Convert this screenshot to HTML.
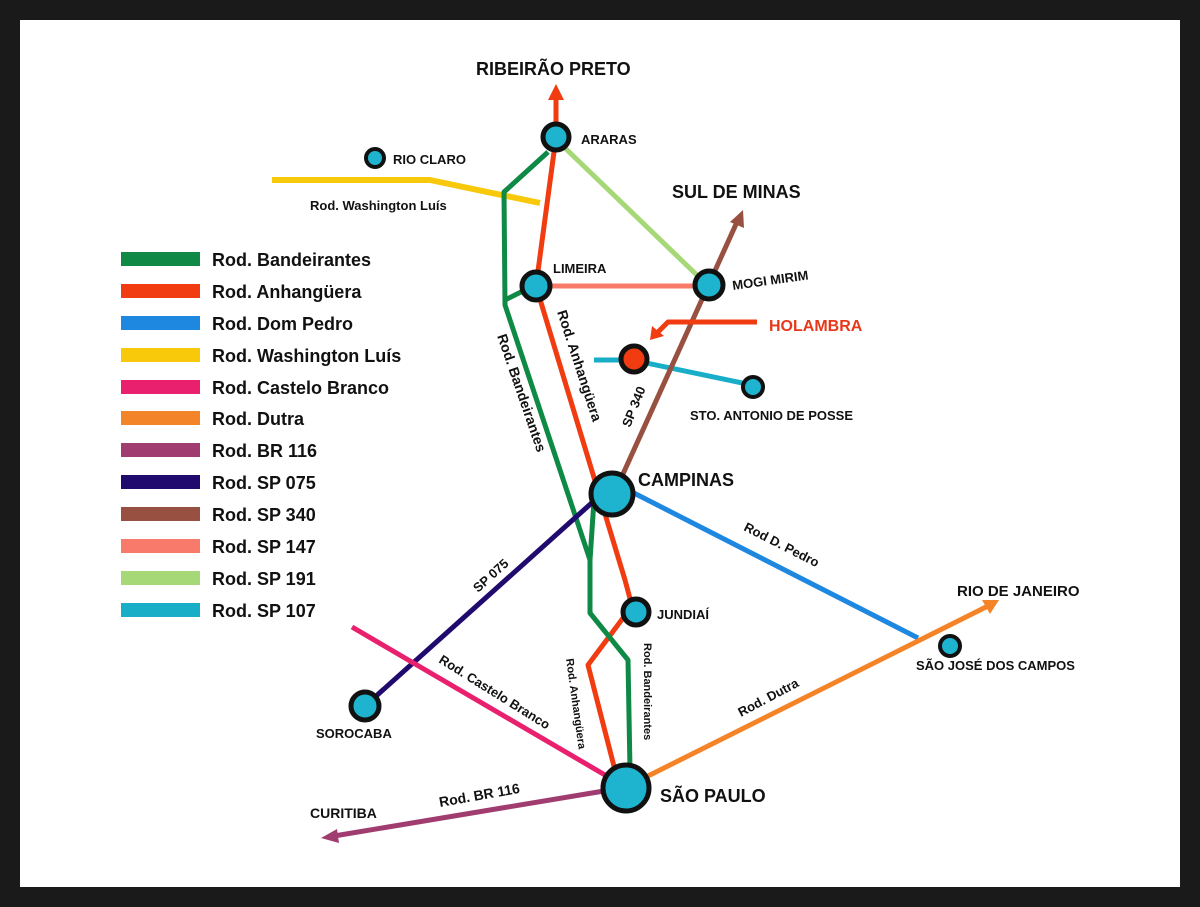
<!DOCTYPE html>
<html><head><meta charset="utf-8"><style>
html,body{margin:0;padding:0;background:#1a1a1a;}
svg{display:block;}
text{font-family:"Liberation Sans",Arial,sans-serif;font-weight:bold;fill:#111;}
</style></head><body>
<svg width="1200" height="907" viewBox="0 0 1200 907" xmlns="http://www.w3.org/2000/svg">
<rect x="0" y="0" width="1200" height="907" fill="#1a1a1a"/>
<rect x="20" y="20" width="1160" height="867" fill="#ffffff"/>

<!-- legend -->
<g>
<rect x="121" y="252" width="79" height="14" fill="#0f8a46"/>
<rect x="121" y="284" width="79" height="14" fill="#f03c10"/>
<rect x="121" y="316" width="79" height="14" fill="#1e88e0"/>
<rect x="121" y="348" width="79" height="14" fill="#f8c80a"/>
<rect x="121" y="380" width="79" height="14" fill="#e8206e"/>
<rect x="121" y="411" width="79" height="14" fill="#f48428"/>
<rect x="121" y="443" width="79" height="14" fill="#a03c70"/>
<rect x="121" y="475" width="79" height="14" fill="#200a6e"/>
<rect x="121" y="507" width="79" height="14" fill="#985040"/>
<rect x="121" y="539" width="79" height="14" fill="#f87a6a"/>
<rect x="121" y="571" width="79" height="14" fill="#a6d878"/>
<rect x="121" y="603" width="79" height="14" fill="#18aec8"/>
<g font-size="18">
<text x="212" y="266">Rod. Bandeirantes</text>
<text x="212" y="298">Rod. Anhangüera</text>
<text x="212" y="330">Rod. Dom Pedro</text>
<text x="212" y="362">Rod. Washington Luís</text>
<text x="212" y="394">Rod. Castelo Branco</text>
<text x="212" y="425">Rod. Dutra</text>
<text x="212" y="457">Rod. BR 116</text>
<text x="212" y="489">Rod. SP 075</text>
<text x="212" y="521">Rod. SP 340</text>
<text x="212" y="553">Rod. SP 147</text>
<text x="212" y="585">Rod. SP 191</text>
<text x="212" y="617">Rod. SP 107</text>
</g>
</g>

<!-- roads -->
<g fill="none" stroke-linejoin="round" stroke-linecap="butt">
<polyline points="272,180 430,180 540,203" stroke="#f8c80a" stroke-width="6"/>
<line x1="565" y1="148" x2="702" y2="280" stroke="#a6d878" stroke-width="5"/>
<line x1="548" y1="286" x2="700" y2="286" stroke="#f87a6a" stroke-width="5"/>
<polyline points="594,360 632,360 752,385" stroke="#18aec8" stroke-width="5"/>
<line x1="618" y1="485" x2="737" y2="222" stroke="#985040" stroke-width="5"/>
<polyline points="757,322 668,322 655,335" stroke="#f03c10" stroke-width="5"/>
<polyline points="556,98 556,137 536,286 625,580 632,606 588,665 617,778" stroke="#f03c10" stroke-width="5"/>
<polyline points="548,152 504,192 505,305 590,560 590,613 628,660 630,770" stroke="#0f8a46" stroke-width="5"/>
<line x1="505" y1="300" x2="525" y2="290" stroke="#0f8a46" stroke-width="5"/>
<line x1="594" y1="500" x2="590" y2="560" stroke="#0f8a46" stroke-width="5"/>
<line x1="595" y1="500" x2="365" y2="706" stroke="#200a6e" stroke-width="5"/>
<line x1="628" y1="490" x2="918" y2="638" stroke="#1e88e0" stroke-width="5"/>
<line x1="352" y1="627" x2="605" y2="775" stroke="#e8206e" stroke-width="5"/>
<line x1="648" y1="776" x2="988" y2="606" stroke="#f48428" stroke-width="5"/>
<line x1="604" y1="791" x2="334" y2="836" stroke="#a03c70" stroke-width="5"/>
</g>
<!-- arrowheads -->
<polygon points="556,84 548,100 564,100" fill="#f03c10"/>
<polygon points="743,210 730,222 744,228" fill="#985040"/>
<polygon points="650,340 652,326 664,336" fill="#f03c10"/>
<polygon points="999,600 982,600 990,614" fill="#f48428"/>
<polygon points="321,838 337,829 339,843" fill="#a03c70"/>

<!-- nodes -->
<g stroke="#111" fill="#1eb4d0">
<circle cx="556" cy="137" r="13" stroke-width="5"/>
<circle cx="375" cy="158" r="9" stroke-width="4"/>
<circle cx="536" cy="286" r="14" stroke-width="5"/>
<circle cx="709" cy="285" r="14" stroke-width="5"/>
<circle cx="634" cy="359" r="13" stroke-width="5" fill="#f03c10"/>
<circle cx="753" cy="387" r="10" stroke-width="4"/>
<circle cx="612" cy="494" r="21" stroke-width="5"/>
<circle cx="636" cy="612" r="13" stroke-width="5"/>
<circle cx="626" cy="788" r="23" stroke-width="5"/>
<circle cx="365" cy="706" r="14" stroke-width="5"/>
<circle cx="950" cy="646" r="10" stroke-width="4"/>
</g>

<!-- city labels -->
<text x="476" y="75" font-size="18">RIBEIRÃO PRETO</text>
<text x="581" y="144" font-size="13">ARARAS</text>
<text x="393" y="164" font-size="13">RIO CLARO</text>
<text x="672" y="198" font-size="18">SUL DE MINAS</text>
<text x="553" y="273" font-size="13">LIMEIRA</text>
<text x="733" y="290" font-size="13" transform="rotate(-8 733 290)">MOGI MIRIM</text>
<text x="769" y="331" font-size="16" style="fill:#e8381a">HOLAMBRA</text>
<text x="690" y="420" font-size="13">STO. ANTONIO DE POSSE</text>
<text x="638" y="486" font-size="18">CAMPINAS</text>
<text x="657" y="619" font-size="13">JUNDIAÍ</text>
<text x="957" y="596" font-size="15">RIO DE JANEIRO</text>
<text x="916" y="670" font-size="13">SÃO JOSÉ DOS CAMPOS</text>
<text x="316" y="738" font-size="13">SOROCABA</text>
<text x="660" y="802" font-size="18">SÃO PAULO</text>
<text x="310" y="818" font-size="14">CURITIBA</text>

<!-- road labels -->
<text x="310" y="210" font-size="13">Rod. Washington Luís</text>
<text x="557" y="312" font-size="14" transform="rotate(72 557 312)">Rod. Anhangüera</text>
<text x="497" y="336" font-size="14" transform="rotate(71 497 336)">Rod. Bandeirantes</text>
<text x="630" y="428" font-size="13" transform="rotate(-68 630 428)">SP 340</text>
<text x="478" y="593" font-size="13" transform="rotate(-42 478 593)">SP 075</text>
<text x="743" y="530" font-size="13" transform="rotate(27 743 530)">Rod D. Pedro</text>
<text x="438" y="662" font-size="13" transform="rotate(32 438 662)">Rod. Castelo Branco</text>
<text x="566" y="659" font-size="11" transform="rotate(82 566 659)">Rod. Anhangüera</text>
<text x="644" y="643" font-size="11" transform="rotate(90 644 643)">Rod. Bandeirantes</text>
<text x="741" y="717" font-size="13" transform="rotate(-28 741 717)">Rod. Dutra</text>
<text x="440" y="807" font-size="14" transform="rotate(-10 440 807)">Rod. BR 116</text>
</svg>
</body></html>
